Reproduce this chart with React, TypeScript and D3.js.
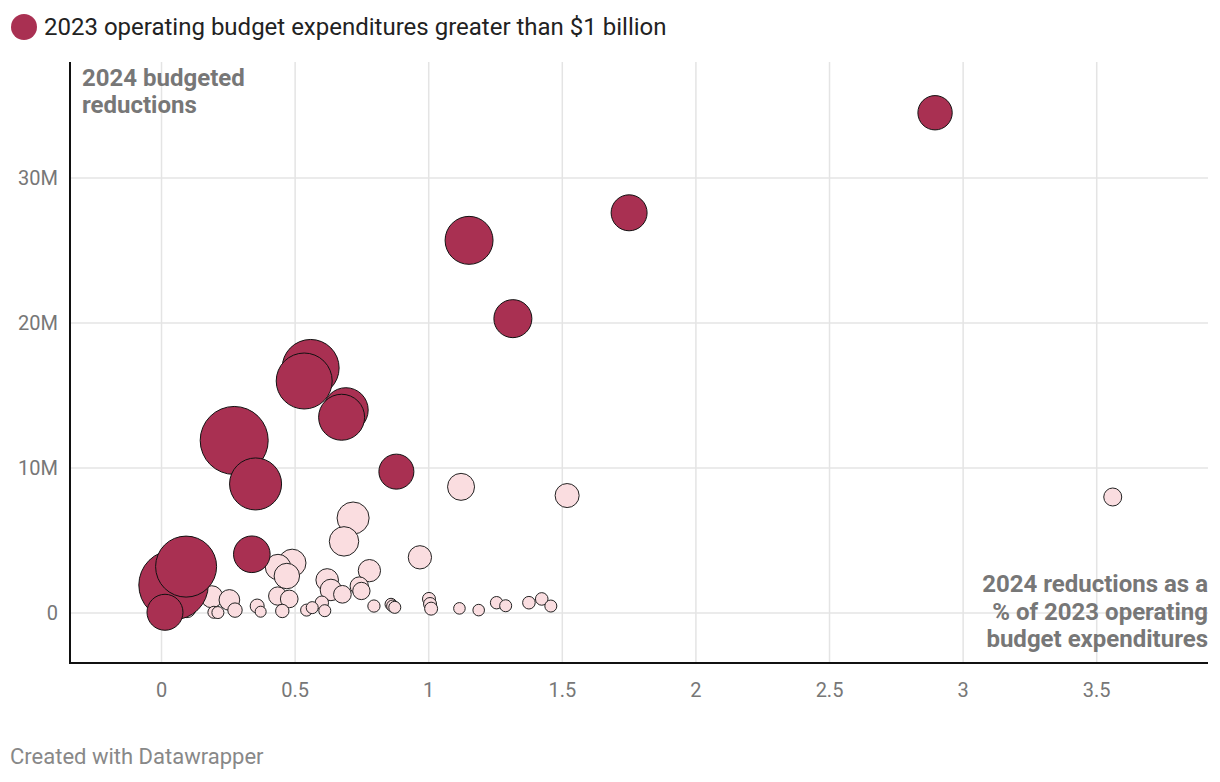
import React from "react";
import * as d3 from "d3";

// x: 2024 reductions as % of 2023 operating budget expenditures
// y: 2024 budgeted reductions ($)
// b: 2023 operating budget ($ billions, circle area)
const darkX = [2.895, 1.75, 1.151, 1.315, 0.558, 0.534, 0.69, 0.674, 0.272, 0.352, 0.879, 0.338, 0.045, 0.092, 0.013];
const darkY = [34.5e6, 27.6e6, 25.7e6, 20.3e6, 16.9e6, 16.0e6, 14.0e6, 13.5e6, 11.9e6, 8.9e6, 9.75e6, 4.05e6, 1.93e6, 3.2e6, 0.05e6];
const darkB = [1.02, 1.12, 1.99, 1.25, 2.81, 2.71, 1.72, 1.83, 4.0, 2.34, 1.06, 1.16, 4.17, 3.22, 1.12];

const lightX = [1.121, 1.518, 3.56, 0.717, 0.683, 0.967, 0.778, 0.62, 0.634, 0.677, 0.74, 0.748, 0.795, 0.859, 0.865, 0.873, 1.001, 1.005, 1.009, 0.436, 0.489, 0.469, 0.435, 0.478, 0.452, 0.358, 0.371, 0.543, 0.564, 0.6, 0.611, 0.188, 0.254, 0.275, 0.196, 0.211, 0.095, 1.115, 1.187, 1.254, 1.288, 1.375, 1.423, 1.457];
const lightY = [8.7e6, 8.1e6, 8.0e6, 6.55e6, 4.94e6, 3.84e6, 2.92e6, 2.28e6, 1.59e6, 1.29e6, 1.86e6, 1.52e6, 0.48e6, 0.6e6, 0.48e6, 0.39e6, 0.97e6, 0.62e6, 0.3e6, 3.17e6, 3.45e6, 2.55e6, 1.17e6, 0.97e6, 0.14e6, 0.48e6, 0.09e6, 0.2e6, 0.37e6, 0.71e6, 0.16e6, 1.12e6, 0.9e6, 0.2e6, 0.05e6, 0.03e6, 0.3e6, 0.32e6, 0.2e6, 0.71e6, 0.5e6, 0.71e6, 0.97e6, 0.48e6];
const lightB = [0.63, 0.5, 0.28, 0.89, 0.75, 0.47, 0.43, 0.44, 0.4, 0.27, 0.29, 0.26, 0.13, 0.125, 0.125, 0.125, 0.146, 0.146, 0.146, 0.56, 0.66, 0.56, 0.29, 0.27, 0.155, 0.17, 0.105, 0.125, 0.125, 0.155, 0.125, 0.42, 0.37, 0.18, 0.125, 0.125, 0.28, 0.116, 0.116, 0.133, 0.125, 0.137, 0.137, 0.125];

const xTicks = [0, 0.5, 1, 1.5, 2, 2.5, 3, 3.5];
const xTickLabels = ["0", "0.5", "1", "1.5", "2", "2.5", "3", "3.5"];
const yTicks = [0, 10e6, 20e6, 30e6];
const yTickLabels = ["0", "10M", "20M", "30M"];

const legendLabel = "2023 operating budget expenditures greater than $1 billion";
const yTitle = ["2024 budgeted", "reductions"];
const xTitle = ["2024 reductions as a", "% of 2023 operating", "budget expenditures"];

const DARK = "#a93052";
const LIGHT = "#fadde0";
const FONT = "Roboto, 'Noto Sans', sans-serif";

export default function App() {
  const W = 1220, H = 782;
  const left = 70, right = 1208, top = 62, bottom = 663;
  const x = d3.scaleLinear().domain([-0.3425, 3.9165]).range([left, right]);
  const y = d3.scaleLinear().domain([-3.448e6, 38e6]).range([bottom, top]);
  const r = d3.scaleSqrt().domain([0, 1]).range([0, 17]);

  const lights = lightX.map((v, i) => ({ x: v, y: lightY[i], b: lightB[i] }))
    .sort((a, b) => b.b - a.b);
  const darks = darkX.map((v, i) => ({ x: v, y: darkY[i], b: darkB[i] }));

  return (
    <svg width={W} height={H} style={{ position: "absolute", left: 0, top: 0, background: "#fff" }} fontFamily={FONT}>
      {/* legend */}
      <circle cx={24} cy={27} r={13} fill={DARK} />
      <text x={44} y={35} fontSize={24} fill="#222">{legendLabel}</text>

      {/* grid */}
      {xTicks.map((t) => (
        <line key={"gx" + t} x1={x(t)} x2={x(t)} y1={top} y2={bottom} stroke="#e4e4e4" strokeWidth={1.5} />
      ))}
      {yTicks.map((t) => (
        <line key={"gy" + t} x1={left} x2={right} y1={y(t)} y2={y(t)} stroke="#e4e4e4" strokeWidth={1.5} />
      ))}

      {/* tick labels */}
      {yTicks.map((t, i) => (
        <text key={"ty" + t} x={58} y={y(t)} dy="0.35em" textAnchor="end" fontSize={20} fill="#777">{yTickLabels[i]}</text>
      ))}
      {xTicks.map((t, i) => (
        <text key={"tx" + t} x={x(t)} y={697} textAnchor="middle" fontSize={20} fill="#777">{xTickLabels[i]}</text>
      ))}

      {/* annotations */}
      <text x={82} y={86} fontSize={24} fontWeight="bold" fill="#777">
        {yTitle.map((s, i) => (<tspan key={i} x={82} dy={i === 0 ? 0 : 27}>{s}</tspan>))}
      </text>
      <text x={1208} y={592} fontSize={24} fontWeight="bold" fill="#777" textAnchor="end">
        {xTitle.map((s, i) => (<tspan key={i} x={1208} dy={i === 0 ? 0 : 27.5}>{s}</tspan>))}
      </text>

      {/* points */}
      {lights.map((d, i) => (
        <circle key={"l" + i} cx={x(d.x)} cy={y(d.y)} r={r(d.b)} fill={LIGHT} stroke="#222" strokeWidth={1} />
      ))}
      {darks.map((d, i) => (
        <circle key={"d" + i} cx={x(d.x)} cy={y(d.y)} r={r(d.b)} fill={DARK} stroke="#111" strokeWidth={1} />
      ))}

      {/* axes */}
      <line x1={left} x2={left} y1={top} y2={bottom + 1} stroke="#111" strokeWidth={2} />
      <line x1={left} x2={right} y1={bottom} y2={bottom} stroke="#111" strokeWidth={2} />

      <text x={10} y={764} fontSize={22} fill="#888">Created with Datawrapper</text>
    </svg>
  );
}
